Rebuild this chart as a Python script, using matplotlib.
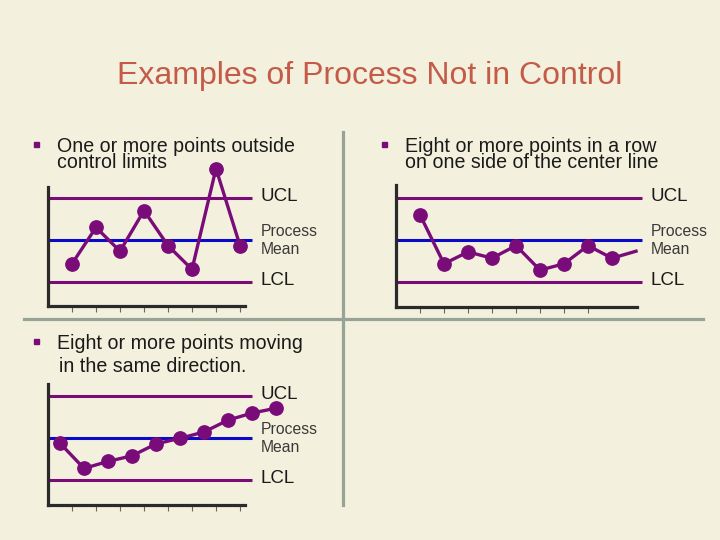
import numpy as np
import matplotlib.pyplot as plt
from matplotlib.lines import Line2D

plt.rcParams['font.family'] = ['Liberation Sans', 'DejaVu Sans']

# data: deviation from the process mean (in sigma-ish units), UCL = +3, LCL = -3
ucl, mean, lcl = 3.0, 0.0, -3.0

# panel 1 - one or more points outside control limits
out_x = np.arange(1, 9)
out_y = [-1.7, 0.9, -0.8, 2.1, -0.4, -2.1, 5.1, -0.4]

# panel 2 - eight or more points on one side of center line
side_x = np.arange(1, 11)
side_y = [1.8, -1.7, -0.85, -1.3, -0.4, -2.15, -1.7, -0.4, -1.3, -0.8]

# panel 3 - eight or more points moving in the same direction
trend_x = np.arange(1, 11)
trend_y = [-0.35, -2.15, -1.65, -1.25, -0.4, 0.0, 0.45, 1.3, 1.8, 2.15]

tick_pos = np.arange(1, 9)

title = "Examples of Process Not in Control"
bullet1 = ["One or more points outside", "control limits"]
bullet2 = ["Eight or more points in a row", "on one side of the center line"]
bullet3 = ["Eight or more points moving", "in the same direction."]

bg = '#f3f1dd'
purple = '#7a0c7a'
blue = '#0a0ac8'
divider = '#98a398'

W, H = 720, 540
fig = plt.figure(figsize=(7.2, 5.4), dpi=100, facecolor=bg)


def fx(px):
    return px / W


def fy(py):
    return 1 - py / H


# pixel helpers: 24 px per sample, 14 px per unit
def make_panel(x0, ymean, right, bottom, top, spine_top, spine_right):
    ax = fig.add_axes([fx(x0), fy(bottom), (right - x0) / W, (bottom - top) / H])
    ax.set_facecolor('none')
    ax.set_xlim(0, (right - x0) / 24)
    ax.set_ylim(-(bottom - ymean) / 14, (ymean - top) / 14)
    for s in ['top', 'right']:
        ax.spines[s].set_visible(False)
    for s in ['left', 'bottom']:
        ax.spines[s].set_linewidth(2.3)
        ax.spines[s].set_color('#2a2a2a')
        ax.spines[s].set_capstyle('projecting')
    ax.spines['left'].set_bounds(-(bottom - ymean) / 14, (ymean - spine_top) / 14)
    ax.spines['bottom'].set_bounds(0, (spine_right - x0) / 24)
    ax.set_yticks([])
    ax.set_xticks(tick_pos)
    ax.set_xticklabels([])
    ax.tick_params(axis='x', direction='out', length=4.5, width=0.8, color='#666666')
    return ax


def limits(ax, xend, label_x):
    ax.hlines([ucl, lcl], 0, xend, color=purple, lw=2.2, zorder=2)
    ax.hlines(mean, 0, xend, color=blue, lw=2.2, zorder=2)
    ax.text(label_x, ucl - 0.22, "UCL", fontsize=13.5, color='#1a1a1a', va='baseline')
    ax.text(label_x, mean + 0.3, "Process", fontsize=11.3, color='#3a3a3a', va='baseline')
    ax.text(label_x, mean - 1.0, "Mean", fontsize=11.3, color='#3a3a3a', va='baseline')
    ax.text(label_x, lcl - 0.2, "LCL", fontsize=13.5, color='#1a1a1a', va='baseline')


# panel 1
ax1 = make_panel(48, 240, 330, 306, 160, 187, 245)
limits(ax1, 8.5, 8.85)
ax1.plot(out_x, out_y, '-o', color=purple, lw=2.4, ms=9.6, zorder=3, clip_on=False)

# panel 2
ax2 = make_panel(396, 240, 710, 306.5, 160, 185, 637)
limits(ax2, 10.25, 10.6)
ax2.plot(side_x, side_y, '-o', color=purple, lw=2.4, ms=9.6, markevery=slice(0, 9),
         zorder=3, clip_on=False)

# panel 3
ax3 = make_panel(48, 438.3, 330, 505, 375, 384, 245)
limits(ax3, 8.5, 8.85)
ax3.plot(trend_x - 0.5, trend_y, '-o', color=purple, lw=2.4, ms=9.6, zorder=3, clip_on=False)

# title
fig.text(fx(370), fy(84.3), title, fontsize=23, color='#c45a48', ha='center', va='baseline')

# bullets
def bullet(x, sq_y, lines, baselines, indents):
    fig.add_artist(Line2D([fx(x - 21)], [fy(sq_y)], marker='s', ms=3.6, color=purple,
                          ls='none', transform=fig.transFigure))
    for t, b, d in zip(lines, baselines, indents):
        fig.text(fx(x + d), fy(b), t, fontsize=14.1, color='#1a1a1a', va='baseline')


bullet(57, 144, bullet1, [152.3, 168.3], [0, 0])
bullet(405, 144, bullet2, [152.3, 168.3], [0, 0])
bullet(57, 340.5, bullet3, [349, 371.7], [0, 2])

# divider lines
fig.add_artist(Line2D([fx(24), fx(703)], [fy(318.5), fy(318.5)], color=divider, lw=2.3,
                      transform=fig.transFigure))
fig.add_artist(Line2D([fx(342.5), fx(342.5)], [fy(132), fy(505)], color=divider, lw=2.3,
                      transform=fig.transFigure))

fig.savefig('out.png', dpi=100, facecolor=bg)
